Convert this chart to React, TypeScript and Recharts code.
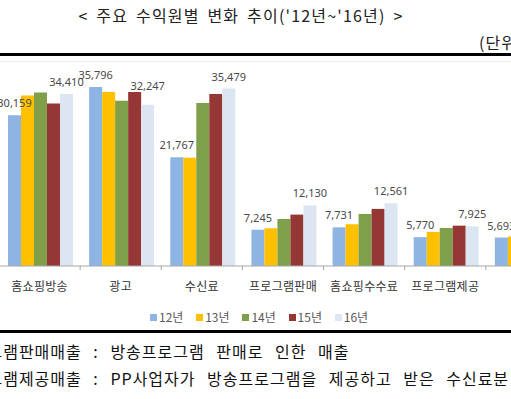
import React from 'react';
import { BarChart, Bar, XAxis, YAxis, LabelList } from 'recharts';

const categories = ['홈쇼핑방송', '광고', '수신료', '프로그램판매', '홈쇼핑수수료', '프로그램제공', '기타'];
const seriesNames = ['12년', '13년', '14년', '15년', '16년'];
const y12 = [30159, 35796, 21767, 7245, 7731, 5770, 5693];
const y13 = [34100, 34790, 21630, 7550, 8350, 6810, 5900];
const y14 = [34710, 33050, 32580, 9410, 10410, 7610, 6500];
const y15 = [32510, 34790, 34380, 10280, 11420, 8070, 6800];
const y16 = [34410, 32247, 35479, 12130, 12561, 7925, 7000];

const colors = ['#8db4e2', '#ffc000', '#7f9f4a', '#953735', '#dce6f2'];
const keys = ['y12', 'y13', 'y14', 'y15', 'y16'];

const data = categories.map((c, i) => ({
  name: c,
  y12: y12[i],
  y13: y13[i],
  y14: y14[i],
  y15: y15[i],
  y16: y16[i],
}));

const Y_MAX = 40000;
const CHART_W = 568;
const CHART_H = 240;
const PLOT_H = 200;
const BAND = CHART_W / categories.length;
const KR = '"Noto Sans CJK KR", "Noto Sans", sans-serif';

const CatTick = (props: any) => {
  const { x, payload } = props;
  return (
    <g>
      <line x1={x + BAND / 2} y1={PLOT_H} x2={x + BAND / 2} y2={PLOT_H + 4} stroke="#a6a6a6" />
      <text
        x={x}
        y={PLOT_H + 19}
        textAnchor="middle"
        dominantBaseline="central"
        fontSize={12}
        fontFamily={KR}
        fill="#333"
        letterSpacing={0.3}
      >
        {payload.value}
      </text>
    </g>
  );
};

// label sits above its bar, and is lifted above a taller neighbouring bar (15년) when needed
const makeLabel = (avoidNeighbour: boolean) => (props: any) => {
  const { x, y, width, value, index } = props;
  let cy = y - 12.5;
  if (avoidNeighbour) {
    const nTop = PLOT_H * (1 - y15[index] / Y_MAX);
    cy = Math.min(cy, nTop - 7);
  }
  return (
    <text
      x={x + width / 2}
      y={cy}
      textAnchor="middle"
      dominantBaseline="central"
      fontSize={11}
      fontFamily='"Noto Sans", sans-serif'
      fill="#4a4a4a"
    >
      {Number(value).toLocaleString('en-US')}
    </text>
  );
};

const Label12 = makeLabel(false);
const Label16 = makeLabel(true);

const footStyle: React.CSSProperties = {
  position: 'absolute',
  left: -44,
  fontSize: 16,
  color: '#111',
  whiteSpace: 'nowrap',
  lineHeight: '22px',
  letterSpacing: 1,
  wordSpacing: 7,
};

export default function App() {
  return (
    <div
      style={{
        position: 'absolute',
        left: 0,
        top: 0,
        width: 511,
        height: 399,
        overflow: 'hidden',
        background: '#fff',
        fontFamily: KR,
      }}
    >
      <div
        style={{
          position: 'absolute',
          left: 0,
          width: 482,
          top: 4,
          textAlign: 'center',
          fontSize: 16,
          color: '#222',
          whiteSpace: 'nowrap',
          lineHeight: '22px',
          letterSpacing: 1.2,
          wordSpacing: 3,
        }}
      >
        {"< 주요 수익원별 변화 추이('12년~'16년) >"}
      </div>
      <div
        style={{
          position: 'absolute',
          left: 479,
          top: 31,
          fontSize: 16,
          color: '#222',
          whiteSpace: 'nowrap',
          lineHeight: '22px',
          letterSpacing: 1,
        }}
      >
        (단위 : 억원)
      </div>
      <div style={{ position: 'absolute', left: 0, top: 53, width: 511, height: 3, background: '#000' }} />
      <div style={{ position: 'absolute', left: 0, top: 61, width: 511, height: 1, background: '#ededed' }} />

      <div style={{ position: 'absolute', left: -1.5, top: 66 }}>
        <BarChart
          width={CHART_W}
          height={CHART_H}
          data={data}
          margin={{ top: 0, right: 0, bottom: 0, left: 0 }}
          barCategoryGap={9}
          barGap={0}
        >
          <XAxis
            dataKey="name"
            height={CHART_H - PLOT_H}
            tickLine={false}
            axisLine={{ stroke: '#a6a6a6' }}
            tick={<CatTick />}
            interval={0}
          />
          <YAxis hide domain={[0, Y_MAX]} />
          {keys.map((k, i) => (
            <Bar key={k} dataKey={k} name={seriesNames[i]} fill={colors[i]} isAnimationActive={false}>
              {k === 'y12' && <LabelList dataKey={k} content={<Label12 />} />}
              {k === 'y16' && <LabelList dataKey={k} content={<Label16 />} />}
            </Bar>
          ))}
        </BarChart>
      </div>

      <div style={{ position: 'absolute', left: 0, top: 309, height: 16, width: 511 }}>
        {seriesNames.map((s, i) => (
          <div
            key={s}
            style={{
              position: 'absolute',
              left: 150 + i * 46.2,
              top: 0,
              display: 'flex',
              alignItems: 'center',
              height: 16,
            }}
          >
            <div style={{ width: 7, height: 7, background: colors[i] }} />
            <span style={{ marginLeft: 2, fontSize: 12, color: '#595959', lineHeight: '16px' }}>{s}</span>
          </div>
        ))}
      </div>

      <div style={{ position: 'absolute', left: 0, top: 330, width: 511, height: 3, background: '#000' }} />

      <div style={{ ...footStyle, top: 340 }}>프로그램판매매출 : 방송프로그램 판매로 인한 매출</div>
      <div style={{ ...footStyle, top: 367 }}>프로그램제공매출 : PP사업자가 방송프로그램을 제공하고 받은 수신료분</div>
    </div>
  );
}
